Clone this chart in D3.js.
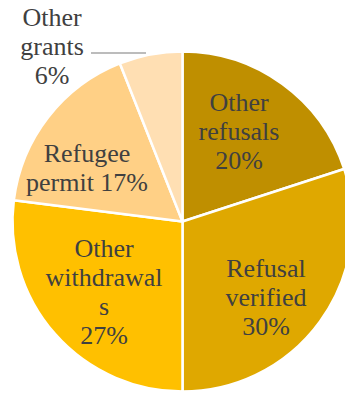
<!DOCTYPE html>
<html>
<head>
<meta charset="utf-8">
<script src="https://cdn.jsdelivr.net/npm/d3@7"></script>
<style>
  html, body { margin: 0; padding: 0; background: #fff; overflow: hidden; }
  svg { display: block; }
  .lbl { font-family: "Liberation Serif", "DejaVu Serif", serif; font-size: 26px; fill: #404040; }
</style>
</head>
<body>
<svg id="chart" width="345" height="393"></svg>
<script>
// Application outcomes (share of total, %)
const categories = ["Other refusals", "Refusal verified", "Other withdrawals", "Refugee permit", "Other grants"];
const values = [20, 30, 27, 17, 6];
const labelLines = [
  ["Other", "refusals", "20%"],
  ["Refusal", "verified", "30%"],
  ["Other", "withdrawal", "s", "27%"],
  ["Refugee", "permit 17%"],
  ["Other", "grants", "6%"]
];
const colors = ["#BF8F00", "#DFA800", "#FFC000", "#FFD086", "#FFDFB3"];

const width = 345, height = 393;
const cx = 182.5, cy = 221.5, radius = 170;

// Placement of each wrapped label (centre x, first baseline y), relative to the pie centre
const labelOffset = {
  "Other refusals": [56.5, -110.5],
  "Refusal verified": [83.5, 55.5],
  "Other withdrawals": [-78.5, 35.5],
  "Refugee permit": [-95.5, -59.5],
  "Other grants": [-130.5, -195.5]
};
const lineHeight = 29;

const svg = d3.select("#chart");
const g = svg.append("g").attr("transform", `translate(${cx},${cy})`);

const data = categories.map((c, i) => ({ category: c, value: values[i], lines: labelLines[i], color: colors[i] }));

const pie = d3.pie().value(d => d.value).sort(null);
const arc = d3.arc().innerRadius(0).outerRadius(radius);
const arcs = pie(data);

g.selectAll("path.slice")
  .data(arcs)
  .join("path")
  .attr("class", "slice")
  .attr("d", arc)
  .attr("fill", d => d.data.color)
  .attr("stroke", "#fff")
  .attr("stroke-width", 2.5)
  .attr("stroke-linejoin", "round");

// Leader line from the outside label towards its slice
const leaderY = -168.5;
g.append("line")
  .attr("x1", labelOffset["Other grants"][0] + 39)
  .attr("x2", -36.5)
  .attr("y1", leaderY)
  .attr("y2", leaderY)
  .attr("stroke", "#A6A6A6")
  .attr("stroke-width", 1.5);

const labels = g.selectAll("text.lbl")
  .data(arcs)
  .join("text")
  .attr("class", "lbl")
  .attr("text-anchor", "middle")
  .attr("x", d => labelOffset[d.data.category][0])
  .attr("y", d => labelOffset[d.data.category][1]);

labels.each(function(d) {
  const t = d3.select(this);
  const [x0, y0] = labelOffset[d.data.category];
  d.data.lines.forEach((ln, i) => {
    t.append("tspan")
      .attr("x", x0)
      .attr("y", y0 + i * lineHeight)
      .text(ln);
  });
});
</script>
</body>
</html>
